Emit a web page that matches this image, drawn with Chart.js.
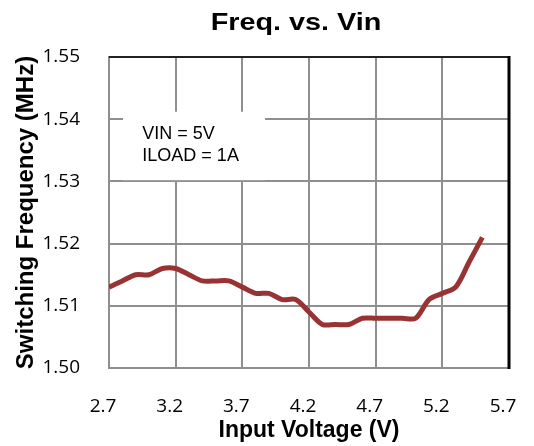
<!DOCTYPE html>
<html>
<head>
<meta charset="utf-8">
<script src="https://cdn.jsdelivr.net/npm/chart.js@4/dist/chart.umd.min.js"></script>
<style>
  html, body { margin: 0; padding: 0; background: #fff; }
  #wrap { width: 534px; height: 446px; position: relative; }
</style>
</head>
<body>
<div id="wrap"><canvas id="c" width="534" height="446"></canvas></div>
<script>
const chartTitle = "Freq. vs. Vin";
const xAxisTitle = "Input Voltage (V)";
const yAxisTitle = "Switching Frequency (MHz)";
const annotationLines = ["VIN = 5V", "ILOAD = 1A"];

const inputVoltage = [2.7, 2.8, 2.9, 3.0, 3.1, 3.2, 3.3, 3.4, 3.5, 3.6, 3.7, 3.8, 3.9, 4.0, 4.1,
                      4.2, 4.3, 4.4, 4.5, 4.6, 4.7, 4.8, 4.9, 5.0, 5.1, 5.2, 5.3, 5.4, 5.5];
const switchingFreq = [1.513, 1.514, 1.515, 1.515, 1.516, 1.516, 1.515, 1.514, 1.514, 1.514, 1.513, 1.512, 1.512, 1.511, 1.511,
                       1.509, 1.507, 1.507, 1.507, 1.508, 1.508, 1.508, 1.508, 1.508, 1.511, 1.512, 1.513, 1.517, 1.521];

const xTicks = [2.7, 3.2, 3.7, 4.2, 4.7, 5.2, 5.7];
const yTicks = [1.50, 1.51, 1.52, 1.53, 1.54, 1.55];

const points = inputVoltage.map((v, i) => ({ x: v, y: switchingFreq[i] }));

const decorPlugin = {
  id: 'decor',
  beforeDatasetsDraw(chart) {
    const { ctx, scales: { x, y } } = chart;
    const x0 = x.getPixelForValue(2.805), x1 = x.getPixelForValue(3.87);
    const y0 = y.getPixelForValue(1.5412), y1 = y.getPixelForValue(1.5302);
    ctx.save();
    ctx.fillStyle = '#ffffff';
    ctx.fillRect(x0, y0, x1 - x0, y1 - y0);
    ctx.fillStyle = '#000000';
    ctx.font = '18px "Liberation Sans", Arial, sans-serif';
    ctx.textBaseline = 'alphabetic';
    ctx.textAlign = 'left';
    const tx = x.getPixelForValue(2.95);
    ctx.fillText(annotationLines[0], tx, y0 + 27.5);
    ctx.fillText(annotationLines[1], tx, y0 + 49);
    ctx.restore();
  },
  afterDraw(chart) {
    const { ctx, chartArea: a } = chart;
    ctx.save();
    ctx.strokeStyle = '#222222';
    ctx.lineWidth = 2;
    ctx.beginPath();
    ctx.moveTo(a.left, a.top);
    ctx.lineTo(a.right, a.top);
    ctx.stroke();
    ctx.strokeStyle = '#000000';
    ctx.lineWidth = 3;
    ctx.beginPath();
    ctx.moveTo(a.right, a.top - 1);
    ctx.lineTo(a.right, a.bottom + 1);
    ctx.stroke();
    ctx.restore();
    ctx.save();
    ctx.fillStyle = '#000000';
    ctx.font = 'bold 24px "Liberation Sans", Arial, sans-serif';
    ctx.textAlign = 'center';
    ctx.textBaseline = 'alphabetic';
    ctx.translate(296, 30);
    ctx.scale(1.2, 1);
    ctx.fillText(chartTitle, 0, 0);
    ctx.restore();
  }
};

new Chart(document.getElementById('c'), {
  type: 'line',
  data: {
    datasets: [{
      data: points,
      borderColor: '#993333',
      backgroundColor: '#993333',
      borderWidth: 5,
      pointRadius: 0,
      tension: 0.3,
      fill: false
    }]
  },
  options: {
    responsive: false,
    animation: false,
    devicePixelRatio: 1,
    layout: { padding: { left: 0, right: 25, top: 57, bottom: 0 } },
    plugins: {
      legend: { display: false },
      tooltip: { enabled: false },
      title: { display: false }
    },
    scales: {
      x: {
        type: 'linear',
        min: 2.7,
        max: 5.7,
        afterBuildTicks: s => { s.ticks = xTicks.map(v => ({ value: v })); },
        afterFit: s => { s.height = 78; s.paddingLeft = 0; s.paddingRight = 0; },
        grid: { color: '#8f8f8f', lineWidth: 2, drawTicks: false },
        border: { color: '#8f8f8f', width: 2 },
        ticks: {
          padding: 27,
          labelOffset: -6,
          color: '#000',
          font: { family: '"Open Sans", sans-serif', size: 19 },
          callback: v => Number(v).toFixed(1)
        },
        title: {
          display: true,
          text: xAxisTitle,
          color: '#000',
          font: { family: '"Liberation Sans", Arial, sans-serif', size: 23, weight: 'bold' },
          padding: { top: 0, bottom: 2 }
        }
      },
      y: {
        type: 'linear',
        min: 1.50,
        max: 1.55,
        afterBuildTicks: s => { s.ticks = yTicks.map(v => ({ value: v })); },
        afterFit: s => { s.width = 109; s.paddingTop = 0; s.paddingBottom = 0; },
        grid: { color: '#8f8f8f', lineWidth: 2, drawTicks: false },
        border: { color: '#8f8f8f', width: 2 },
        ticks: {
          padding: 29,
          color: '#000',
          font: { family: '"Open Sans", sans-serif', size: 19 },
          callback: v => Number(v).toFixed(2)
        },
        title: {
          display: true,
          text: yAxisTitle,
          color: '#000',
          font: { family: '"Liberation Sans", Arial, sans-serif', size: 24, weight: 'bold' },
          padding: { top: 12, bottom: 0 }
        }
      }
    }
  },
  plugins: [decorPlugin]
});
</script>
</body>
</html>
